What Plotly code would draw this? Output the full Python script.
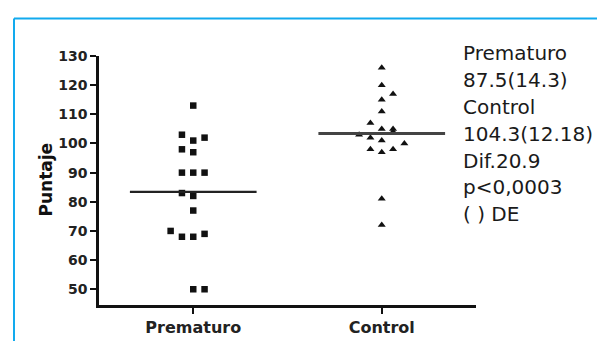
import plotly.graph_objects as go

# ---------------- data ----------------
categories = ["Prematuro", "Control"]

prem_values = [113, 103, 101, 102, 98, 97, 90, 90, 90, 83, 82, 77, 70, 68, 68, 69, 50, 50]
prem_slots = [0, -1, 0, 1, -1, 0, -1, 0, 1, -1, 0, 0, -2, -1, 0, 1, 0, 1]

ctrl_values = [126, 120, 117, 115, 111, 107, 105, 105, 104, 103, 102, 101, 98, 97, 98, 100, 81, 72]
ctrl_slots = [0, 0, 1, 0, 0, -1, 0, 1, 1, -2, -1, 0, -1, 0, 1, 2, 0, 0]

y_ticks = [50, 60, 70, 80, 90, 100, 110, 120, 130]

stats_lines = ["Prematuro", "87.5(14.3)", "Control", "104.3(12.18)",
               "Dif.20.9", "p<0,0003", "( ) DE"]

# ---------------- styling helpers ----------------
SLOT_W = 0.06
HALF_LINE = 0.336
FONT = "DejaVu Sans"
INK = "#111111"

fig = go.Figure()

groups = [
    (0, prem_values, prem_slots, "square", 6.5, "#222222", 2.2),
    (1, ctrl_values, ctrl_slots, "triangle-up", 7, "#444444", 3),
]
for idx, vals, slots, sym, size, lcol, lw in groups:
    xs = [idx + s * SLOT_W for s in slots]
    fig.add_trace(go.Scatter(
        x=xs, y=vals, mode="markers",
        marker=dict(symbol=sym, size=size, color=INK, line=dict(width=0)),
        showlegend=False, hoverinfo="y",
    ))
    mean = sum(vals) / len(vals)
    fig.add_trace(go.Scatter(
        x=[idx - HALF_LINE, idx + HALF_LINE], y=[mean, mean], mode="lines",
        line=dict(color=lcol, width=lw),
        showlegend=False, hoverinfo="skip",
    ))

L, R, T, B = 91, 137, 48, 41
W, H = 605, 341
pw = W - L - R
ph = H - T - B

def px_to_paper_x(px):
    return (px - L) / pw

def px_to_paper_y(py):
    return (H - B - py) / ph

annotations = []
# y-axis title
annotations.append(dict(
    text="Puntaje", xref="paper", yref="paper",
    x=px_to_paper_x(38), y=px_to_paper_y(173), textangle=-90,
    xanchor="center", yanchor="middle", showarrow=False,
    font=dict(family=FONT, size=17, color=INK, weight="bold"),
))
# stats text block
for i, line in enumerate(stats_lines):
    annotations.append(dict(
        text=line, xref="paper", yref="paper",
        x=px_to_paper_x(453), y=px_to_paper_y(45 + i * 27.2),
        xanchor="left", yanchor="middle", showarrow=False,
        font=dict(family=FONT, size=20, color="#1a1a1a"),
    ))

shapes = [
    dict(type="line", xref="paper", yref="paper",
         x0=px_to_paper_x(6), x1=px_to_paper_x(610),
         y0=px_to_paper_y(10), y1=px_to_paper_y(10),
         line=dict(color="#12AAEE", width=2)),
    dict(type="line", xref="paper", yref="paper",
         x0=px_to_paper_x(6), x1=px_to_paper_x(6),
         y0=px_to_paper_y(10), y1=px_to_paper_y(345),
         line=dict(color="#12AAEE", width=2)),
]

fig.update_layout(
    width=W, height=H,
    margin=dict(l=L, r=R, t=T, b=B, pad=0),
    paper_bgcolor="white", plot_bgcolor="white",
    annotations=annotations, shapes=shapes,
    showlegend=False,
)
fig.update_xaxes(
    range=[-0.5, 1.5], tickvals=[0, 1], ticktext=categories,
    showgrid=False, zeroline=False,
    showline=True, linecolor=INK, linewidth=2.5,
    ticks="outside", ticklen=6, tickwidth=2, tickcolor=INK,
    tickfont=dict(family=FONT, size=16, color="#222222", weight="bold"),
)
fig.update_yaxes(
    range=[44.6, 130], tickvals=y_ticks,
    showgrid=False, zeroline=False,
    showline=True, linecolor=INK, linewidth=2.5,
    ticks="outside", ticklen=6, tickwidth=2, tickcolor=INK,
    tickfont=dict(family=FONT, size=14, color="#222222", weight="bold"),
)

fig.write_html("out.html")
